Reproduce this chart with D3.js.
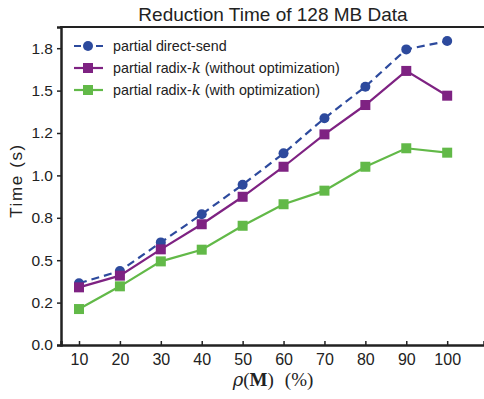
<!DOCTYPE html>
<meta charset="utf-8">
<style>
  body { margin: 0; background: #fff; }
  text { font-family: "Liberation Sans", Arial, Helvetica, sans-serif; fill: #222; }
  .domain, .tick line { stroke: #222; }
</style>
<svg width="484" height="399"></svg>
<script src="https://d3js.org/d3.v7.min.js"></script>
<script>

    var percents = [10, 20, 30, 40, 50, 60, 70, 80, 90, 100];
    var directSend = [0.364, 0.436, 0.605, 0.771, 0.945, 1.13, 1.337, 1.523, 1.743, 1.792];
    var radixNoOpt = [0.340, 0.409, 0.564, 0.712, 0.874, 1.051, 1.242, 1.415, 1.616, 1.470];
    var radixOpt = [0.212, 0.346, 0.493, 0.562, 0.703, 0.830, 0.910, 1.051, 1.160, 1.134];
    var yTicks = [0, 0.25, 0.5, 0.75, 1.0, 1.25, 1.5, 1.75];
    var yTickLabels = ["0.0", "0.2", "0.5", "0.8", "1.0", "1.2", "1.5", "1.8"];

    var svg = d3.select("svg"),
        margin = {top: 27, left: 61, bottom: 54},
        width = +svg.attr("width"),
        height = +svg.attr("height");

    var x = d3.scaleLinear().domain([5.6, 109]).range([margin.left, width]);
    var y = d3.scaleLinear().domain([0, 1.875]).range([height - margin.bottom, margin.top]);

    var series = [
        {name: "direct", values: directSend, color: "#2d4a9d", dash: "8,5", marker: "circle"},
        {name: "noopt", values: radixNoOpt, color: "#7e2282", dash: null, marker: "square"},
        {name: "opt", values: radixOpt, color: "#62b948", dash: null, marker: "square"}
    ];

    // axes
    svg.append("g")
        .attr("transform", "translate(0," + (height - margin.bottom) + ")")
        .call(d3.axisBottom(x).tickValues(percents).tickSize(-4).tickPadding(9))
        .call(function(g) {
            g.select(".domain").attr("stroke-width", 2.5);
            g.selectAll(".tick line").attr("stroke-width", 1.5);
            g.selectAll("text").attr("font-size", 16).attr("fill", "#222");
        });

    svg.append("g")
        .attr("transform", "translate(" + margin.left + ",0)")
        .call(d3.axisLeft(y).tickValues(yTicks).tickSize(4).tickPadding(4)
            .tickFormat(function(d, i) { return yTickLabels[i]; }))
        .call(function(g) {
            g.select(".domain").attr("stroke-width", 2.5);
            g.selectAll(".tick line").attr("stroke-width", 1.5);
            g.selectAll("text").attr("font-size", 15.5).attr("fill", "#222");
        });

    // top border
    svg.append("line")
        .attr("x1", margin.left - 1).attr("x2", width)
        .attr("y1", margin.top).attr("y2", margin.top)
        .attr("stroke", "#222").attr("stroke-width", 2);

    var line = d3.line()
        .x(function(d, i) { return x(percents[i]); })
        .y(function(d) { return y(d); });

    series.forEach(function(s) {
        svg.append("path")
            .datum(s.values)
            .attr("fill", "none")
            .attr("stroke", s.color)
            .attr("stroke-width", 2.2)
            .attr("stroke-dasharray", s.dash)
            .attr("d", line);

        var g = svg.append("g");
        if (s.marker == "circle") {
            g.selectAll("circle").data(s.values).enter().append("circle")
                .attr("cx", function(d, i) { return x(percents[i]); })
                .attr("cy", function(d) { return y(d); })
                .attr("r", 5)
                .attr("fill", s.color);
        } else {
            g.selectAll("rect").data(s.values).enter().append("rect")
                .attr("x", function(d, i) { return x(percents[i]) - 5; })
                .attr("y", function(d) { return y(d) - 5; })
                .attr("width", 10).attr("height", 10)
                .attr("fill", s.color);
        }
    });

    // legend
    var legendLabels = [
        ["partial direct-send"],
        ["partial radix-", "k", " (without optimization)"],
        ["partial radix-", "k", " (with optimization)"]
    ];
    series.forEach(function(s, i) {
        var ly = 46 + i * 22;
        svg.append("line")
            .attr("x1", 74).attr("x2", 103).attr("y1", ly).attr("y2", ly)
            .attr("stroke", s.color).attr("stroke-width", 2.2)
            .attr("stroke-dasharray", s.dash ? "7,4" : null);
        if (s.marker == "circle") {
            svg.append("circle").attr("cx", 88).attr("cy", ly).attr("r", 5).attr("fill", s.color);
        } else {
            svg.append("rect").attr("x", 83).attr("y", ly - 5).attr("width", 10).attr("height", 10).attr("fill", s.color);
        }
        var t = svg.append("text").attr("x", 113).attr("y", ly + 5).attr("font-size", 14.3);
        legendLabels[i].forEach(function(part, j) {
            var ts = t.append("tspan").text(part);
            if (part == "k") ts.attr("font-family", "'DejaVu Serif', 'Liberation Serif', serif").attr("font-style", "italic").attr("font-size", 15);
        });
    });

    // title
    svg.append("text")
        .attr("x", 273).attr("y", 21)
        .attr("text-anchor", "middle")
        .attr("font-size", 19)
        .text("Reduction Time of 128 MB Data");

    // y label
    svg.append("text")
        .attr("transform", "translate(22," + (y(0.97)) + ") rotate(-90)")
        .attr("text-anchor", "middle")
        .attr("font-size", 17)
        .attr("letter-spacing", 1.6)
        .text("Time (s)");

    // x label
    var xl = svg.append("text")
        .attr("x", 273).attr("y", 386)
        .attr("text-anchor", "middle")
        .attr("font-size", 19);
    xl.append("tspan").attr("font-family", "'DejaVu Serif', serif").attr("font-style", "italic").attr("font-size", 18).text("\u03C1");
    xl.append("tspan").attr("font-family", "'Liberation Serif', serif").text("(");
    xl.append("tspan").attr("font-family", "'Liberation Serif', serif").attr("font-weight", "bold").text("M");
    xl.append("tspan").attr("font-family", "'Liberation Serif', serif").text(")");
    xl.append("tspan").attr("font-family", "'Liberation Serif', serif").attr("dx", 11).text("(%)");

</script>
